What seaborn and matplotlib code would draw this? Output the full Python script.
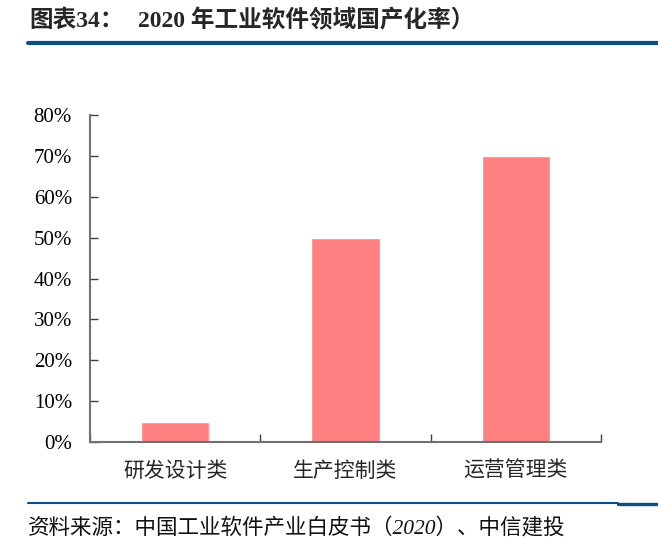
import matplotlib
matplotlib.use("Agg")
import matplotlib.pyplot as plt
import seaborn as sns
import pandas as pd
from matplotlib.lines import Line2D
from matplotlib.ticker import FuncFormatter

# data
categories = ["研发设计类", "生产控制类", "运营管理类"]
rates = [5, 50, 70]

df = pd.DataFrame({"category": categories, "rate": rates})

sns.set_theme(style="white")
plt.rcParams["font.family"] = ["Liberation Serif", "Noto Sans CJK SC", "DejaVu Sans"]

W, H = 658, 552
fig = plt.figure(figsize=(W / 100, H / 100), dpi=100)
ax = fig.add_axes([90 / W, 1 - 442 / H, 511 / W, 327 / H])

sns.barplot(data=df, x="category", y="rate", color="#FF8080", saturation=1,
            width=0.4, ax=ax)

ax.set_xlim(-0.5, 2.5)
ax.set_ylim(0, 80)
ax.set_yticks(range(0, 81, 10))
ax.yaxis.set_major_formatter(FuncFormatter(lambda v, p: f"{int(v)}%"))
ax.set_xlabel("")
ax.set_ylabel("")

# category labels at centres, small ticks at the boundaries
ax.set_xticks([0, 1, 2])
ax.set_xticklabels(categories, fontsize=15, family=["Noto Sans CJK SC"])
ax.set_xticks([-0.5, 0.5, 1.5, 2.5], minor=True)
ax.tick_params(axis="x", which="major", length=0, pad=13)
ax.tick_params(axis="x", which="minor", direction="in", length=6, width=1,
               color="#404040", bottom=True)
ax.tick_params(axis="y", direction="in", length=6, width=1, color="#404040",
               left=True, labelsize=15, pad=13)
for lbl in ax.get_yticklabels():
    lbl.set_color("black")

for side in ["top", "right"]:
    ax.spines[side].set_visible(False)
for side in ["left", "bottom"]:
    ax.spines[side].set_color("#707070")
    ax.spines[side].set_linewidth(1.5)

# header
fig.text(29 / W, 1 - 21 / H, "图表34：", fontsize=17, fontweight="bold",
         family=["Liberation Serif", "Noto Sans CJK SC"], va="center", ha="left")
fig.text(138 / W, 1 - 21 / H, "2020 年工业软件领域国产化率）", fontsize=17,
         fontweight="bold", family=["Liberation Serif", "Noto Sans CJK SC"],
         va="center", ha="left")
fig.add_artist(Line2D([28 / W, 1], [1 - 43 / H, 1 - 43 / H],
                      color="#0B4F85", linewidth=3.0, transform=fig.transFigure))

# footer
fig.add_artist(Line2D([28 / W, 618 / W], [1 - 503 / H, 1 - 503 / H],
                      color="#0B4F85", linewidth=1.5, transform=fig.transFigure))
fig.add_artist(Line2D([618 / W, 1], [1 - 503.5 / H, 1 - 503.5 / H],
                      color="#0B4F85", linewidth=2.4, transform=fig.transFigure))
fig.text(28 / W, 1 - 528 / H, "资料来源：中国工业软件产业白皮书（2020）、中信建投",
         fontsize=15.5, style="italic", family=["Liberation Serif", "Noto Sans CJK SC"],
         va="center", ha="left", color="#111111")

fig.savefig("out.png", dpi=100)
